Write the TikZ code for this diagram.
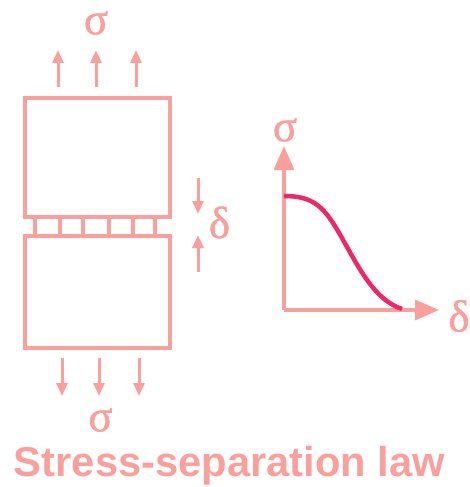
\documentclass[tikz,border=0pt]{standalone}
\usepackage{fontspec}
\setmainfont{Liberation Serif}
\newfontfamily\symfont[FakeBold=1.2]{Liberation Serif}
\newfontfamily\titlefont{Liberation Sans}
\usetikzlibrary{arrows.meta}
\definecolor{salmon}{RGB}{250,160,156}
\definecolor{curvepink}{RGB}{236,40,104}
\begin{document}
\begin{tikzpicture}[x=1pt,y=-1pt,
  boxline/.style={draw=salmon,line width=3.8pt},
  force/.style={draw=salmon,line width=3pt,-{Triangle[length=13pt,width=11pt]}},
  axis/.style={draw=salmon,line width=3.4pt,-{Triangle[length=24pt,width=20pt]}},
  sym/.style={text=salmon,font=\symfont\fontsize{45}{45}\selectfont,inner sep=0pt}]
\useasboundingbox (0,0) rectangle (469,487);
% blocks
\node[boxline,minimum width=145pt,minimum height=119pt,inner sep=0pt,anchor=north west] (top) at (23,96) {};
\node[boxline,minimum width=145pt,minimum height=112pt,inner sep=0pt,anchor=north west] (bot) at (23,234) {};
% cohesive rungs
\foreach \xx [count=\i] in {35,60,83,109,133,155}{
  \coordinate (ra\i) at (\xx,215);
  \coordinate (rb\i) at (\xx,234);
  \draw[salmon,line width=3.4pt] (ra\i) -- (rb\i);
}
% top forces
\foreach \xx [count=\i] in {58,96,136}{
  \coordinate (ts\i) at (\xx,87);
  \coordinate (te\i) at (\xx,50);
  \draw[force] (ts\i) -- (te\i);
}
\node[sym] (sigtop) at (96,23) {σ};
% bottom forces
\foreach \xx [count=\i] in {62,99,139}{
  \coordinate (bs\i) at (\xx,358);
  \coordinate (be\i) at (\xx,396);
  \draw[force] (bs\i) -- (be\i);
}
\node[sym] (sigbot) at (100.5,420) {σ};
% delta arrows
\coordinate (d1s) at (198,178);
\coordinate (d1e) at (198,214);
\coordinate (d2s) at (198,272);
\coordinate (d2e) at (198,235);
\draw[force] (d1s) -- (d1e);
\draw[force] (d2s) -- (d2e);
\node[sym] (dlt) at (219.5,222.5) {δ};
% graph
\coordinate (O) at (284,310);
\coordinate (ytip) at (284,146);
\coordinate (xtip) at (439,310);
\draw[axis] (O) -- (ytip);
\draw[axis] (O) -- (xtip);
\node[sym] (gsig) at (285,130) {σ};
\node[sym] (gdel) at (459,316) {δ};
\coordinate (c0) at (284,196);
\coordinate (cm) at (342,238);
\coordinate (c1) at (402,309);
\draw[curvepink,line width=4.5pt] (c0) .. controls (315,196) and (325,208) .. (cm)
  .. controls (360,270) and (375,300) .. (c1);
% title
\node[text=salmon,font=\titlefont\bfseries\fontsize{41.7}{42}\selectfont,inner sep=0pt,anchor=base] (title) at (229.5,476) {Stress-separation law};
\end{tikzpicture}
\end{document}
